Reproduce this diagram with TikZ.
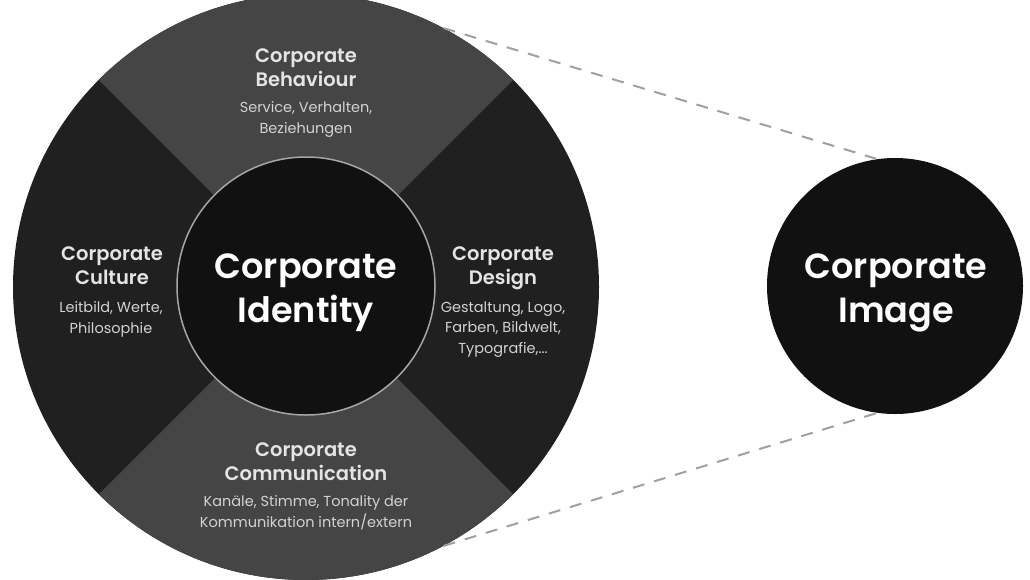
\documentclass[tikz,border=0pt]{standalone}
\usepackage{fontspec}
\setmainfont{Poppins}[BoldFont={Poppins SemiBold}]
\usetikzlibrary{positioning}
\definecolor{sectlight}{HTML}{454545}
\definecolor{sectdark}{HTML}{202020}
\definecolor{coredark}{HTML}{111111}
\definecolor{headgray}{HTML}{E4E4E4}
\definecolor{subgray}{HTML}{D2D2D2}
\definecolor{dashgray}{HTML}{A0A0A0}
\tikzset{
  heading/.style={text=headgray, align=center, inner sep=0pt, anchor=base,
    font=\fontsize{19.5}{23.5}\selectfont\bfseries},
  subtext/.style={text=subgray, align=center, inner sep=0pt, anchor=base,
    font=\fontsize{14.5}{20.5}\selectfont},
  bigtitle/.style={text=white, align=center, inner sep=0pt, anchor=base,
    font=\fontsize{35}{44}\selectfont\bfseries},
  disc/.style={circle, inner sep=0pt, fill=coredark},
  link/.style={dashgray, line width=2pt, dash pattern=on 12pt off 10pt},
}

\begin{document}
\begin{tikzpicture}[x=1pt,y=-1pt]
    \useasboundingbox (0,0) rectangle (1030,579);

    % outer ring with the four sectors
    \node[circle, minimum size=586pt, inner sep=0pt, fill=sectdark] (ring) at (306,287) {};
    \begin{scope}
      \clip (ring.center) circle[radius=293pt];
      \fill[sectlight] (ring.center) -- ++(-400,-400) -- ++(800,0) -- cycle;
      \fill[sectlight] (ring.center) -- ++(-400,400) -- ++(800,0) -- cycle;
    \end{scope}

    % core and image discs
    \node[disc, minimum size=258pt, draw=gray!70, line width=1.5pt] (identity) at (306,286) {};
    \node[disc, minimum size=256pt] (image) at (895,286) {};

    \draw[link] (ring.62) -- (image.98);
    \draw[link] (ring.-62) -- (image.-98);

    % texts, placed by the baseline of their last line
    \node[bigtitle] (identity-text) at (306,322) {Corporate\\Identity};
    \node[bigtitle] (image-text) at (896,322) {Corporate\\Image};

    \node[heading] (behaviour) at (306,86) {Corporate\\Behaviour};
    \node[subtext] (behaviour-sub) at (306,133) {Service, Verhalten,\\Beziehungen};

    \node[heading] (culture) at (112,284) {Corporate\\Culture};
    \node[subtext] (culture-sub) at (111,333) {Leitbild, Werte,\\Philosophie};

    \node[heading] (design) at (503,284) {Corporate\\Design};
    \node[subtext] (design-sub) at (503,353) {Gestaltung, Logo,\\Farben, Bildwelt,\\Typografie,...};

    \node[heading] (communication) at (306,480) {Corporate\\Communication};
    \node[subtext] (communication-sub) at (306,527) {Kanäle, Stimme, Tonality der\\Kommunikation intern/extern};
\end{tikzpicture}
\end{document}
